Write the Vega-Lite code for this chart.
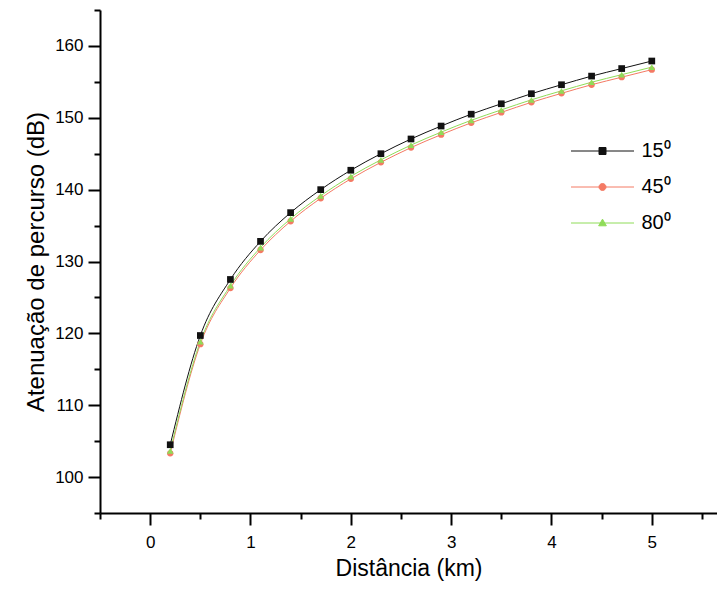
{
  "$schema": "https://vega.github.io/schema/vega-lite/v6.json",
  "width": 617,
  "height": 503,
  "autosize": "none",
  "padding": {"left": 100, "top": 10, "right": 0, "bottom": 79},
  "background": "white",
  "config": {
    "view": {"stroke": null},
    "font": "Liberation Sans",
    "axis": {"grid": false, "domainColor": "black", "tickColor": "black", "labelColor": "black", "titleColor": "black", "domainWidth": 2, "tickWidth": 2, "labelFont": "Liberation Sans", "titleFont": "Liberation Sans", "titleFontWeight": "normal"}
  },
  "data": {
    "values": [
      {"d": 0.2, "L": 104.5, "s": "15⁰"}, {"d": 0.5, "L": 119.7, "s": "15⁰"}, {"d": 0.8, "L": 127.5, "s": "15⁰"}, {"d": 1.1, "L": 132.8, "s": "15⁰"}, {"d": 1.4, "L": 136.8, "s": "15⁰"}, {"d": 1.7, "L": 140.0, "s": "15⁰"}, {"d": 2.0, "L": 142.7, "s": "15⁰"}, {"d": 2.3, "L": 145.0, "s": "15⁰"}, {"d": 2.6, "L": 147.05, "s": "15⁰"}, {"d": 2.9, "L": 148.85, "s": "15⁰"}, {"d": 3.2, "L": 150.5, "s": "15⁰"}, {"d": 3.5, "L": 151.95, "s": "15⁰"}, {"d": 3.8, "L": 153.35, "s": "15⁰"}, {"d": 4.1, "L": 154.6, "s": "15⁰"}, {"d": 4.4, "L": 155.8, "s": "15⁰"}, {"d": 4.7, "L": 156.85, "s": "15⁰"}, {"d": 5.0, "L": 157.9, "s": "15⁰"},
      {"d": 0.2, "L": 103.3, "s": "45⁰"}, {"d": 0.5, "L": 118.5, "s": "45⁰"}, {"d": 0.8, "L": 126.3, "s": "45⁰"}, {"d": 1.1, "L": 131.6, "s": "45⁰"}, {"d": 1.4, "L": 135.6, "s": "45⁰"}, {"d": 1.7, "L": 138.8, "s": "45⁰"}, {"d": 2.0, "L": 141.5, "s": "45⁰"}, {"d": 2.3, "L": 143.8, "s": "45⁰"}, {"d": 2.6, "L": 145.85, "s": "45⁰"}, {"d": 2.9, "L": 147.65, "s": "45⁰"}, {"d": 3.2, "L": 149.3, "s": "45⁰"}, {"d": 3.5, "L": 150.75, "s": "45⁰"}, {"d": 3.8, "L": 152.15, "s": "45⁰"}, {"d": 4.1, "L": 153.4, "s": "45⁰"}, {"d": 4.4, "L": 154.6, "s": "45⁰"}, {"d": 4.7, "L": 155.65, "s": "45⁰"}, {"d": 5.0, "L": 156.7, "s": "45⁰"},
      {"d": 0.2, "L": 103.65, "s": "80⁰"}, {"d": 0.5, "L": 118.85, "s": "80⁰"}, {"d": 0.8, "L": 126.65, "s": "80⁰"}, {"d": 1.1, "L": 131.95, "s": "80⁰"}, {"d": 1.4, "L": 135.95, "s": "80⁰"}, {"d": 1.7, "L": 139.15, "s": "80⁰"}, {"d": 2.0, "L": 141.85, "s": "80⁰"}, {"d": 2.3, "L": 144.15, "s": "80⁰"}, {"d": 2.6, "L": 146.2, "s": "80⁰"}, {"d": 2.9, "L": 148.0, "s": "80⁰"}, {"d": 3.2, "L": 149.65, "s": "80⁰"}, {"d": 3.5, "L": 151.1, "s": "80⁰"}, {"d": 3.8, "L": 152.5, "s": "80⁰"}, {"d": 4.1, "L": 153.75, "s": "80⁰"}, {"d": 4.4, "L": 154.95, "s": "80⁰"}, {"d": 4.7, "L": 156.0, "s": "80⁰"}, {"d": 5.0, "L": 157.05, "s": "80⁰"}
    ]
  },
  "layer": [
    {
      "mark": {"type": "line", "interpolate": "monotone", "strokeWidth": 1, "clip": true},
      "encoding": {
        "x": {"field": "d", "type": "quantitative", "scale": {"domain": [-0.5, 5.65], "nice": false, "zero": false},
          "axis": {"orient": "bottom", "values": [0, 1, 2, 3, 4, 5], "tickSize": 12, "labelPadding": 9, "labelFontSize": 17, "title": "Distância (km)", "titleFontSize": 23, "titlePadding": 7}},
        "y": {"field": "L", "type": "quantitative", "scale": {"domain": [95, 165], "nice": false, "zero": false},
          "axis": {"orient": "left", "values": [100, 110, 120, 130, 140, 150, 160], "tickSize": 12, "labelPadding": 5, "labelFontSize": 17, "title": "Atenuação de percurso (dB)", "titleFontSize": 24, "titlePadding": 6}},
        "color": {"field": "s", "type": "nominal", "scale": {"domain": ["15⁰", "45⁰", "80⁰"], "range": ["#111111", "#f47a64", "#8fdc58"]}}
      }
    },
    {
      "transform": [{"filter": "datum.s === '15⁰'"}],
      "mark": {"type": "point", "filled": true, "opacity": 1, "size": 45, "shape": "square"},
      "encoding": {
        "x": {"field": "d", "type": "quantitative",
          "axis": {"orient": "bottom", "values": [-0.5, 0.5, 1.5, 2.5, 3.5, 4.5, 5.5], "tickSize": 6, "labels": false, "domain": false, "title": null}},
        "y": {"field": "L", "type": "quantitative",
          "axis": {"orient": "left", "values": [95, 105, 115, 125, 135, 145, 155, 165], "tickSize": 6, "labels": false, "domain": false, "title": null}},
        "color": {"field": "s", "type": "nominal"}
      }
    },
    {
      "transform": [{"filter": "datum.s === '45⁰'"}],
      "mark": {"type": "point", "filled": true, "opacity": 1, "size": 40, "shape": "circle"},
      "encoding": {
        "x": {"field": "d", "type": "quantitative", "axis": null},
        "y": {"field": "L", "type": "quantitative", "axis": null},
        "color": {"field": "s", "type": "nominal"}
      }
    },
    {
      "transform": [{"filter": "datum.s === '80⁰'"}],
      "mark": {"type": "point", "filled": true, "opacity": 1, "size": 45, "shape": "triangle-up"},
      "encoding": {
        "x": {"field": "d", "type": "quantitative", "axis": null},
        "y": {"field": "L", "type": "quantitative", "axis": null},
        "color": {"field": "s", "type": "nominal"}
      }
    },
    {
      "transform": [{"filter": "datum.d > 100"}],
      "mark": {"type": "point", "filled": false, "opacity": 1, "size": 49, "strokeWidth": 1},
      "encoding": {
        "x": {"field": "d", "type": "quantitative", "axis": null},
        "y": {"field": "L", "type": "quantitative", "axis": null},
        "color": {"field": "s", "type": "nominal",
          "legend": {"orient": "none", "legendX": 492.5, "legendY": 131, "title": null, "padding": 0, "labelFontSize": 20, "labelFont": "Liberation Sans", "labelColor": "black", "labelOffset": 29, "rowPadding": 16, "symbolSize": 49, "symbolOpacity": 1, "symbolStrokeWidth": 1}},
        "fill": {"field": "s", "type": "nominal", "scale": {"domain": ["15⁰", "45⁰", "80⁰"], "range": ["#111111", "#f47a64", "#8fdc58"]},
          "legend": {"orient": "none", "legendX": 492.5, "legendY": 131, "title": null, "padding": 0, "labelFontSize": 20, "labelFont": "Liberation Sans", "labelColor": "black", "labelOffset": 29, "rowPadding": 16, "symbolSize": 49, "symbolOpacity": 1, "symbolStrokeWidth": 1}},
        "shape": {"field": "s", "type": "nominal", "scale": {"domain": ["15⁰", "45⁰", "80⁰"], "range": ["M-9,0H9M-1,-1H1V1H-1Z", "M-9,0H9M-1,0A1,1,0,1,1,1,0A1,1,0,1,1,-1,0Z", "M-9,0H9M0,-1.1L1.1,0.8H-1.1Z"]},
          "legend": {"orient": "none", "legendX": 492.5, "legendY": 131, "title": null, "padding": 0, "labelFontSize": 20, "labelFont": "Liberation Sans", "labelColor": "black", "labelOffset": 29, "rowPadding": 16, "symbolSize": 49, "symbolOpacity": 1, "symbolStrokeWidth": 1}}
      }
    }
  ],
  "resolve": {"axis": {"x": "independent", "y": "independent"}}
}
